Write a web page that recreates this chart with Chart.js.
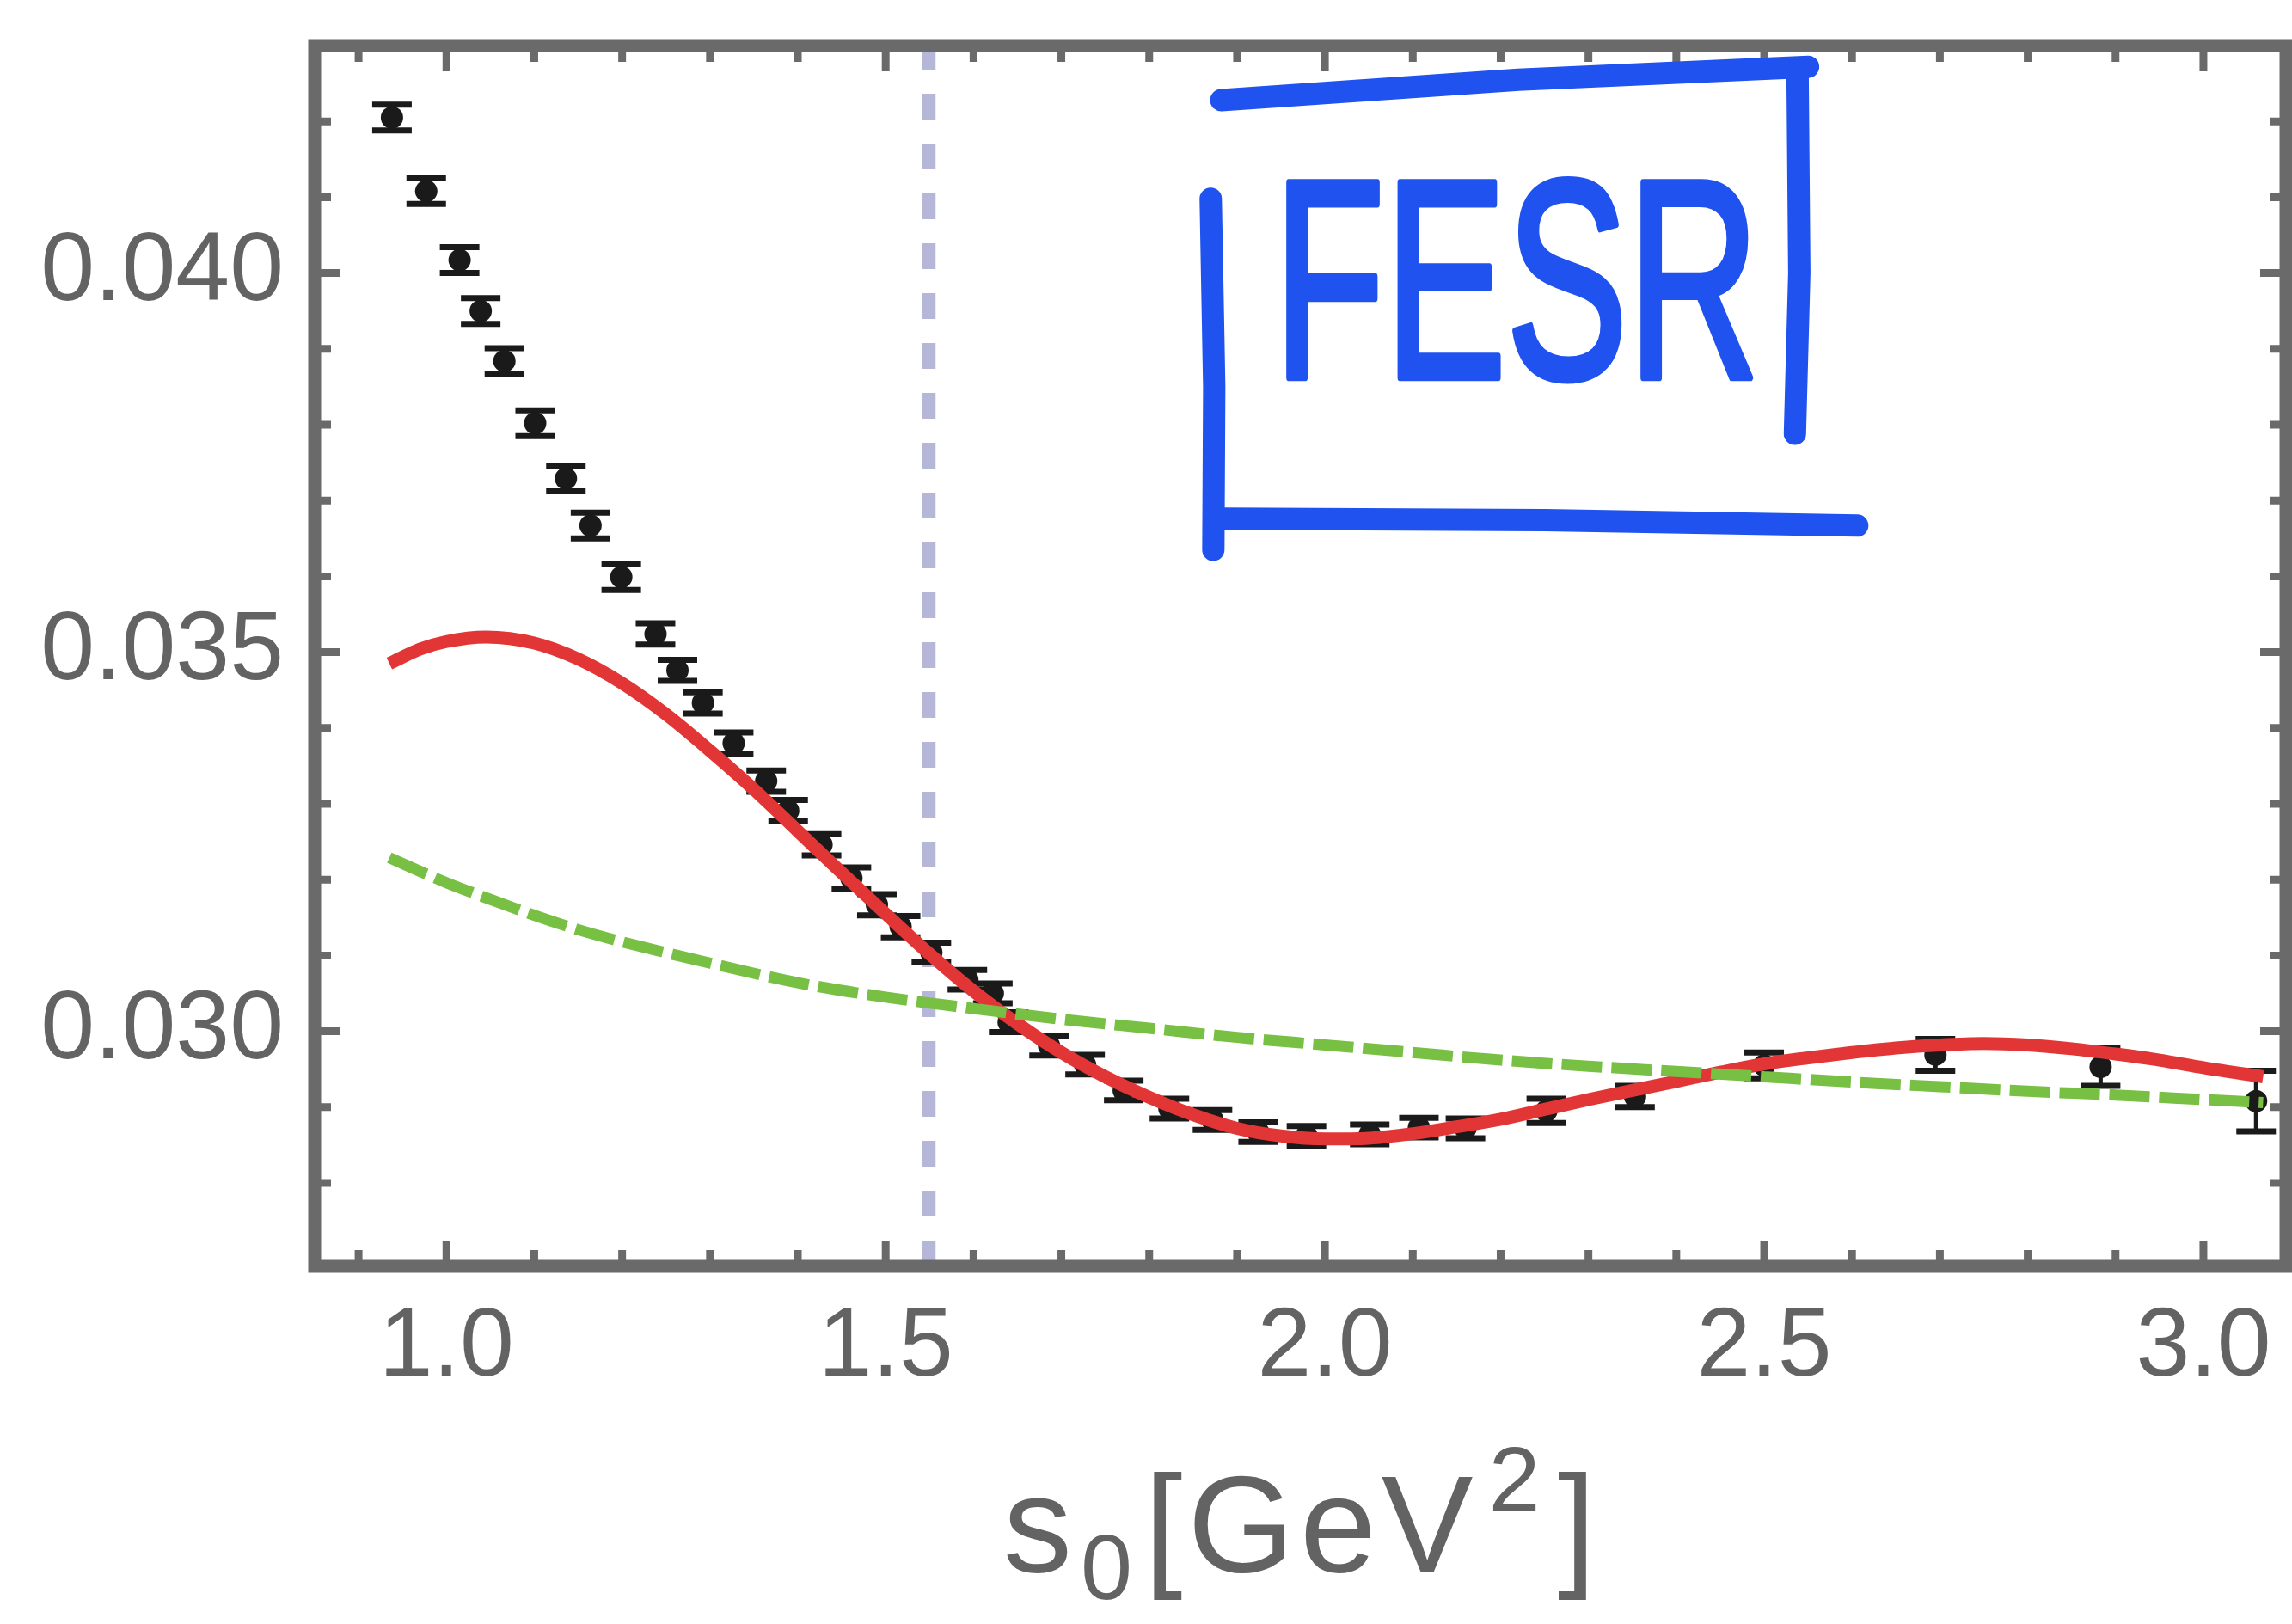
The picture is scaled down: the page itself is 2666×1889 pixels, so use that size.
<!DOCTYPE html>
<html>
<head>
<meta charset="utf-8">
<script src="https://cdn.jsdelivr.net/npm/chart.js@4.4.1/dist/chart.umd.min.js"></script>
<style>
html,body{margin:0;padding:0;background:#ffffff;overflow:hidden}
canvas{display:block}
</style>
</head>
<body>
<canvas id="c" width="2666" height="1889"></canvas>
<script>
// ---------------- data ----------------
// data points with error bars: s0 [GeV^2], value, error
const sData = [0.938, 0.977, 1.015, 1.039, 1.066, 1.101, 1.136, 1.164, 1.199,
  1.238, 1.263, 1.292, 1.327, 1.364, 1.389, 1.427, 1.461, 1.490, 1.517,
  1.552, 1.593, 1.622, 1.640, 1.686, 1.727, 1.771, 1.823, 1.872, 1.924, 1.979, 2.051, 2.107, 2.160,
  2.252, 2.353, 2.500, 2.695, 2.883, 3.060];
const valData = [0.04205, 0.04108, 0.04017, 0.03950, 0.03884, 0.03802, 0.03729, 0.03667, 0.03599,
  0.03524, 0.03476, 0.03433, 0.03380, 0.03330, 0.03291, 0.03246, 0.03202, 0.03167, 0.03138,
  0.03104, 0.03068, 0.03050, 0.03012, 0.02981, 0.02956, 0.02922, 0.02898, 0.02883, 0.02867, 0.02862, 0.02864, 0.02873, 0.02872,
  0.02895, 0.02914, 0.02955, 0.02969, 0.02953, 0.02908];
const errData = [0.00017, 0.00017, 0.00017, 0.00017, 0.00017, 0.00017, 0.00017, 0.00017, 0.00017,
  0.00014, 0.00014, 0.00014, 0.00014, 0.00014, 0.00014, 0.00014, 0.00014, 0.00014, 0.00014,
  0.00013, 0.00013, 0.00013, 0.00013, 0.00013, 0.00013, 0.00013, 0.00013, 0.00013, 0.00013, 0.00013, 0.00013, 0.00013, 0.00013,
  0.00016, 0.00014, 0.00017, 0.00021, 0.00025, 0.00040];

// red solid curve (fit)
const fitS = [0.935, 0.97, 1.00, 1.045, 1.10, 1.15, 1.20, 1.25, 1.30, 1.35, 1.40, 1.45, 1.50,
  1.55, 1.60, 1.65, 1.70, 1.75, 1.80, 1.85, 1.90, 1.95, 2.00, 2.05, 2.10, 2.15, 2.20, 2.25, 2.30,
  2.35, 2.40, 2.45, 2.50, 2.55, 2.60, 2.65, 2.70, 2.75, 2.80, 2.85, 2.90, 2.95, 3.00, 3.068];
const fitVal = [0.03485, 0.03504, 0.03514, 0.03520, 0.03512, 0.03491, 0.03459, 0.03418, 0.03370, 0.03319, 0.03264, 0.03209, 0.03155,
  0.03102, 0.03053, 0.03010, 0.02972, 0.02940, 0.02913, 0.02890, 0.02872, 0.02862, 0.02858, 0.02859, 0.02865, 0.02874, 0.02884, 0.02897, 0.02910,
  0.02922, 0.02934, 0.02946, 0.02957, 0.02965, 0.02972, 0.02978, 0.02982, 0.02984, 0.02982, 0.02977, 0.02970, 0.02962, 0.02952, 0.02940];

// green dashed curve
const opeS = [0.935, 1.00, 1.05, 1.10, 1.15, 1.20, 1.30, 1.40, 1.50, 1.60, 1.70, 1.80, 1.90, 2.00,
  2.10, 2.20, 2.30, 2.40, 2.50, 2.60, 2.70, 2.80, 2.90, 3.00, 3.068];
const opeVal = [0.03229, 0.03196, 0.03174, 0.03153, 0.03134, 0.03118, 0.03090, 0.03064, 0.03045, 0.03030, 0.03016, 0.03004, 0.02992, 0.02982,
  0.02972, 0.02962, 0.02954, 0.02947, 0.02940, 0.02933, 0.02927, 0.02921, 0.02916, 0.02910, 0.02906];

// vertical dashed marker
const cutS = [1.549, 1.549];
const cutVal = [0.0269, 0.0430];

// axes
const xRange = [0.85, 3.094];
const yRange = [0.0269, 0.0430];
const xTickLabels = [1.0, 1.5, 2.0, 2.5, 3.0];
const yTickLabels = [0.030, 0.035, 0.040];
// x-axis title pieces: s_0 [GeV^2]
const xTitleParts = [['s', 'base'], ['0', 'sub'], ['[GeV', 'base'], ['2', 'sup'], [']', 'base']];
const annotationText = 'FESR';

// ---------------- styles ----------------
const AXIS = '#6a6a6a';
const LABEL = '#636363';
const RED = '#e23636';
const GREEN = '#78c044';
const LAV = '#b6b6d9';
const BLUE = '#1f52ef';
const FONT = '"Liberation Sans", Arial, sans-serif';

const near = (v, arr) => arr.some(a => Math.abs(a - v) < 1e-7);

const errorBarPlugin = {
  id: 'errorBars',
  beforeDatasetDraw(chart, args) {
    if (args.index !== 0) return;
    const {ctx, scales: {x, y}} = chart;
    ctx.save();
    ctx.strokeStyle = '#1a1a1a';
    for (let i = 0; i < sData.length; i++) {
      const px = x.getPixelForValue(sData[i]);
      const yt = y.getPixelForValue(valData[i] + errData[i]);
      const yb = y.getPixelForValue(valData[i] - errData[i]);
      ctx.lineWidth = 5;
      ctx.beginPath(); ctx.moveTo(px, yt); ctx.lineTo(px, yb); ctx.stroke();
      ctx.lineWidth = 7;
      ctx.beginPath();
      ctx.moveTo(px - 23, yt); ctx.lineTo(px + 23, yt);
      ctx.moveTo(px - 23, yb); ctx.lineTo(px + 23, yb);
      ctx.stroke();
    }
    ctx.restore();
  }
};

const framePlugin = {
  id: 'frame',
  afterDatasetsDraw(chart) {
    const {ctx, chartArea: a, scales: {x, y}} = chart;
    ctx.save();
    ctx.strokeStyle = AXIS;
    ctx.lineWidth = 9;
    x.ticks.forEach(t => {
      const px = x.getPixelForValue(t.value);
      if (px < a.left + 10 || px > a.right - 10) return;
      const len = near(t.value, xTickLabels) ? 30 : 19;
      ctx.beginPath();
      ctx.moveTo(px, a.bottom); ctx.lineTo(px, a.bottom - len);
      ctx.moveTo(px, a.top); ctx.lineTo(px, a.top + len);
      ctx.stroke();
    });
    y.ticks.forEach(t => {
      const py = y.getPixelForValue(t.value);
      if (py < a.top + 10 || py > a.bottom - 10) return;
      const len = near(t.value, yTickLabels) ? 30 : 19;
      ctx.beginPath();
      ctx.moveTo(a.left, py); ctx.lineTo(a.left + len, py);
      ctx.moveTo(a.right, py); ctx.lineTo(a.right - len, py);
      ctx.stroke();
    });
    ctx.lineWidth = 15;
    ctx.strokeRect(a.left, a.top, a.right - a.left, a.bottom - a.top);
    ctx.restore();
  }
};

const titlePlugin = {
  id: 'xTitle',
  afterDraw(chart) {
    const {ctx, chartArea: a} = chart;
    const big = 160, small = 108;
    const spec = {base: [big, 0], sub: [small, 32], sup: [small, -70]};
    ctx.save();
    ctx.fillStyle = LABEL;
    ctx.textBaseline = 'alphabetic';
    ctx.textAlign = 'left';
    if ('letterSpacing' in ctx) ctx.letterSpacing = '6px';
    const gap = {base: 4, sub: 8, sup: 22};
    let total = 0;
    const widths = xTitleParts.map(([t, k]) => {
      ctx.font = spec[k][0] + 'px ' + FONT;
      const w = ctx.measureText(t).width + gap[k];
      total += w;
      return w;
    });
    let cx = (a.left + a.right) / 2 - total / 2 + 4;
    const baseY = 1828;
    xTitleParts.forEach(([t, k], i) => {
      ctx.font = spec[k][0] + 'px ' + FONT;
      ctx.fillText(t, cx + (k === 'sup' ? 8 : 0), baseY + spec[k][1]);
      cx += widths[i];
    });
    ctx.restore();
  }
};

const annotationPlugin = {
  id: 'fesrNote',
  afterDraw(chart) {
    const {ctx, scales: {x, y}} = chart;
    const P = (sx, sy) => [x.getPixelForValue(sx), y.getPixelForValue(sy)];
    const strokes = [
      [[1.882, 0.04228], [2.220, 0.04255], [2.550, 0.04272]],
      [[2.538, 0.04268], [2.540, 0.04000], [2.535, 0.03788]],
      [[1.870, 0.04098], [1.874, 0.03850], [1.873, 0.03635]],
      [[1.884, 0.03676], [2.250, 0.03674], [2.606, 0.03667]]
    ];
    ctx.save();
    ctx.strokeStyle = BLUE;
    ctx.lineWidth = 26;
    ctx.lineCap = 'round';
    ctx.lineJoin = 'round';
    strokes.forEach(s => {
      ctx.beginPath();
      s.forEach((p, i) => { const [px, py] = P(p[0], p[1]); i ? ctx.lineTo(px, py) : ctx.moveTo(px, py); });
      ctx.stroke();
    });
    const [tx, ty] = P(2.218, 0.03862);
    ctx.fillStyle = BLUE;
    ctx.font = '330px ' + FONT;
    ctx.textAlign = 'center';
    ctx.textBaseline = 'alphabetic';
    ctx.lineWidth = 8;
    ctx.fillText(annotationText, tx, ty, 565);
    ctx.strokeText(annotationText, tx, ty, 565);
    ctx.restore();
  }
};

const tickFont = {family: FONT, size: 113};

new Chart(document.getElementById('c'), {
  type: 'scatter',
  data: {
    datasets: [
      {
        label: 'data',
        data: sData.map((s, i) => ({x: s, y: valData[i]})),
        backgroundColor: '#1a1a1a',
        borderColor: '#1a1a1a',
        pointRadius: 13,
        pointBorderWidth: 0,
        showLine: false,
        order: 3
      },
      {
        label: 'fit',
        data: fitS.map((s, i) => ({x: s, y: fitVal[i]})),
        showLine: true,
        borderColor: RED,
        borderWidth: 15,
        pointRadius: 0,
        cubicInterpolationMode: 'monotone',
        order: 2
      },
      {
        label: 'ope',
        data: opeS.map((s, i) => ({x: s, y: opeVal[i]})),
        showLine: true,
        borderColor: GREEN,
        borderWidth: 13,
        borderDash: [47, 11],
        pointRadius: 0,
        cubicInterpolationMode: 'monotone',
        order: 1
      },
      {
        label: 'cut',
        data: cutS.map((s, i) => ({x: s, y: cutVal[i]})),
        showLine: true,
        borderColor: LAV,
        borderWidth: 16,
        borderDash: [30, 28],
        pointRadius: 0,
        order: 4
      }
    ]
  },
  options: {
    responsive: false,
    devicePixelRatio: 1,
    animation: false,
    layout: {autoPadding: false, padding: {top: 53, right: 7, left: 0, bottom: 0}},
    plugins: {legend: {display: false}, tooltip: {enabled: false}, title: {display: false}},
    scales: {
      x: {
        type: 'linear',
        position: 'bottom',
        min: xRange[0], max: xRange[1],
        grid: {display: false},
        border: {display: false},
        ticks: {
          stepSize: 0.1,
          includeBounds: false,
          autoSkip: false,
          maxRotation: 0,
          padding: 20,
          color: LABEL,
          font: tickFont,
          callback: v => near(v, xTickLabels) ? v.toFixed(1) : ''
        },
        title: {display: false},
        afterFit: s => { s.height = 416; s.paddingLeft = 0; s.paddingRight = 0; s.paddingTop = 0; s.paddingBottom = 0; }
      },
      y: {
        type: 'linear',
        position: 'left',
        min: yRange[0], max: yRange[1],
        grid: {display: false},
        border: {display: false},
        ticks: {
          stepSize: 0.001,
          includeBounds: false,
          autoSkip: false,
          padding: 28,
          color: LABEL,
          font: tickFont,
          callback: v => near(v, yTickLabels) ? v.toFixed(3) : ''
        },
        afterFit: s => { s.width = 366; s.paddingTop = 0; s.paddingBottom = 0; s.paddingLeft = 0; s.paddingRight = 0; }
      }
    }
  },
  plugins: [errorBarPlugin, framePlugin, titlePlugin, annotationPlugin]
});
</script>
</body>
</html>
